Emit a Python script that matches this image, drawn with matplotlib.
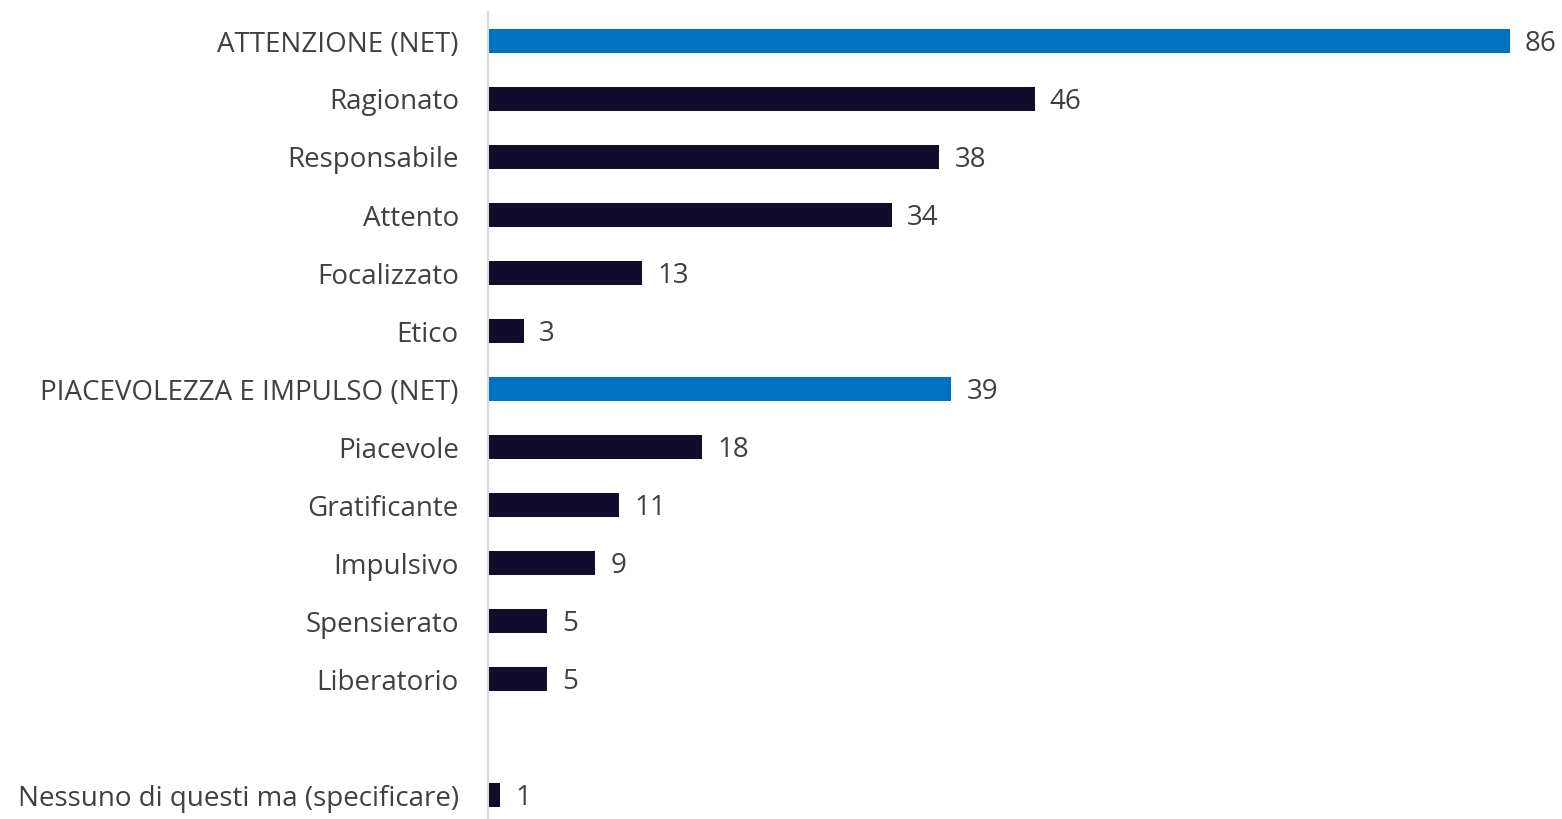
import numpy as np
import matplotlib
matplotlib.use("Agg")
import matplotlib.pyplot as plt

categories = ["ATTENZIONE (NET)", "Ragionato", "Responsabile", "Attento", "Focalizzato",
              "Etico", "PIACEVOLEZZA E IMPULSO (NET)", "Piacevole", "Gratificante",
              "Impulsivo", "Spensierato", "Liberatorio", "", "Nessuno di questi ma (specificare)"]
values = [86, 46, 38, 34, 13, 3, 39, 18, 11, 9, 5, 5, None, 1]
is_net = [True, False, False, False, False, False, True, False, False, False, False, False, False, False]

NET_COLOR = "#0070C0"
ITEM_COLOR = "#110C2C"
TEXT_COLOR = "#404040"

plt.rcParams['font.family'] = ['Open Sans', 'DejaVu Sans']

fig = plt.figure(figsize=(15.62, 8.19), dpi=100)
ax = fig.add_axes([488 / 1562, 0, 1 - 488 / 1562 - 0.003, 1 - 12 / 819])

for i, (cat, v, net) in enumerate(zip(categories, values, is_net)):
    if v is None:
        continue
    ax.barh(i, v, height=0.43, color=NET_COLOR if net else ITEM_COLOR)
    ax.annotate(f"{v}", xy=(v, i), xytext=(11, -2), textcoords="offset points",
                va="center", ha="left", fontsize=20, color=TEXT_COLOR)

ax.set_yticks(range(len(categories)))
ax.set_yticklabels(categories, fontsize=20, color=TEXT_COLOR)
ax.tick_params(axis="y", length=0, pad=21)
ax.set_ylim(13 + 24 / 58, -0.5)
ax.set_xlim(0, 90)
ax.set_xticks([])
for s in ["top", "right", "bottom"]:
    ax.spines[s].set_visible(False)
ax.spines["left"].set_color("#D9D9D9")
ax.spines["left"].set_linewidth(1.5)

fig.savefig("out.png", dpi=100)
